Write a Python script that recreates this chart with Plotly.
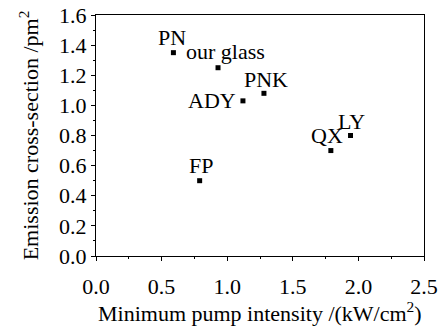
import plotly.graph_objects as go

names = ["PN", "our glass", "ADY", "PNK", "QX", "LY", "FP"]
pump_intensity = [0.59, 0.93, 1.12, 1.28, 1.79, 1.94, 0.79]
cross_section = [1.35, 1.25, 1.03, 1.08, 0.70, 0.80, 0.50]
# label offsets in pixels (x, y) relative to each point
label_shift = [(-1, 15), (7, 16), (-31, 0), (2, 14), (-4, 15), (1, 14), (1, 15)]

x_ticks = [0.0, 0.5, 1.0, 1.5, 2.0, 2.5]
y_ticks = [0.0, 0.2, 0.4, 0.6, 0.8, 1.0, 1.2, 1.4, 1.6]
x_title = "Minimum pump intensity /(kW/cm<sup>2</sup>)"
y_title = "Emission cross-section /pm<sup>2</sup>"

FONT = "Liberation Serif, Times New Roman, serif"
FS = 22

fig = go.Figure()
fig.add_trace(go.Scatter(
    x=pump_intensity, y=cross_section, mode="markers",
    marker=dict(symbol="square", size=5, color="black"),
    showlegend=False, hoverinfo="skip",
))

for n, xv, yv, (dx, dy) in zip(names, pump_intensity, cross_section, label_shift):
    fig.add_annotation(x=xv, y=yv, text=n, showarrow=False,
                       xanchor="center", yanchor="middle",
                       xshift=dx, yshift=dy,
                       font=dict(family=FONT, size=FS, color="black"))

# x-axis title placed as a paper annotation for precise vertical position
fig.add_annotation(x=0.5, y=0, xref="paper", yref="paper", text=x_title,
                   showarrow=False, xanchor="center", yanchor="top", yshift=-40,
                   font=dict(family=FONT, size=FS, color="black"))

axis_common = dict(
    showline=True, linecolor="black", linewidth=1, mirror=True,
    ticks="outside", ticklen=4, tickwidth=1, tickcolor="black",
    showgrid=False, zeroline=False,
    tickfont=dict(family=FONT, size=FS, color="black"),
)

fig.update_xaxes(
    range=[0, 2.5], tickvals=x_ticks, ticktext=[f"{v:.1f}" for v in x_ticks],
    minor=dict(dtick=0.25, ticklen=2, tickcolor="black", ticks="outside"),
    ticklabelstandoff=7,
    **axis_common,
)
fig.update_yaxes(
    range=[0, 1.6], tickvals=y_ticks, ticktext=[f"{v:.1f}" for v in y_ticks],
    minor=dict(dtick=0.1, ticklen=2, tickcolor="black", ticks="outside"),
    title=dict(text=y_title,
               font=dict(family=FONT, size=FS, color="black"), standoff=14),
    **axis_common,
)

fig.update_layout(
    width=442, height=328,
    margin=dict(l=96, r=18, t=15, b=72, autoexpand=False),
    plot_bgcolor="white", paper_bgcolor="white",
    font=dict(family=FONT, color="black"),
)

fig.write_html("out.html", config={"displayModeBar": False},
               post_script="document.body.style.margin='0px';document.body.style.padding='0px';")
